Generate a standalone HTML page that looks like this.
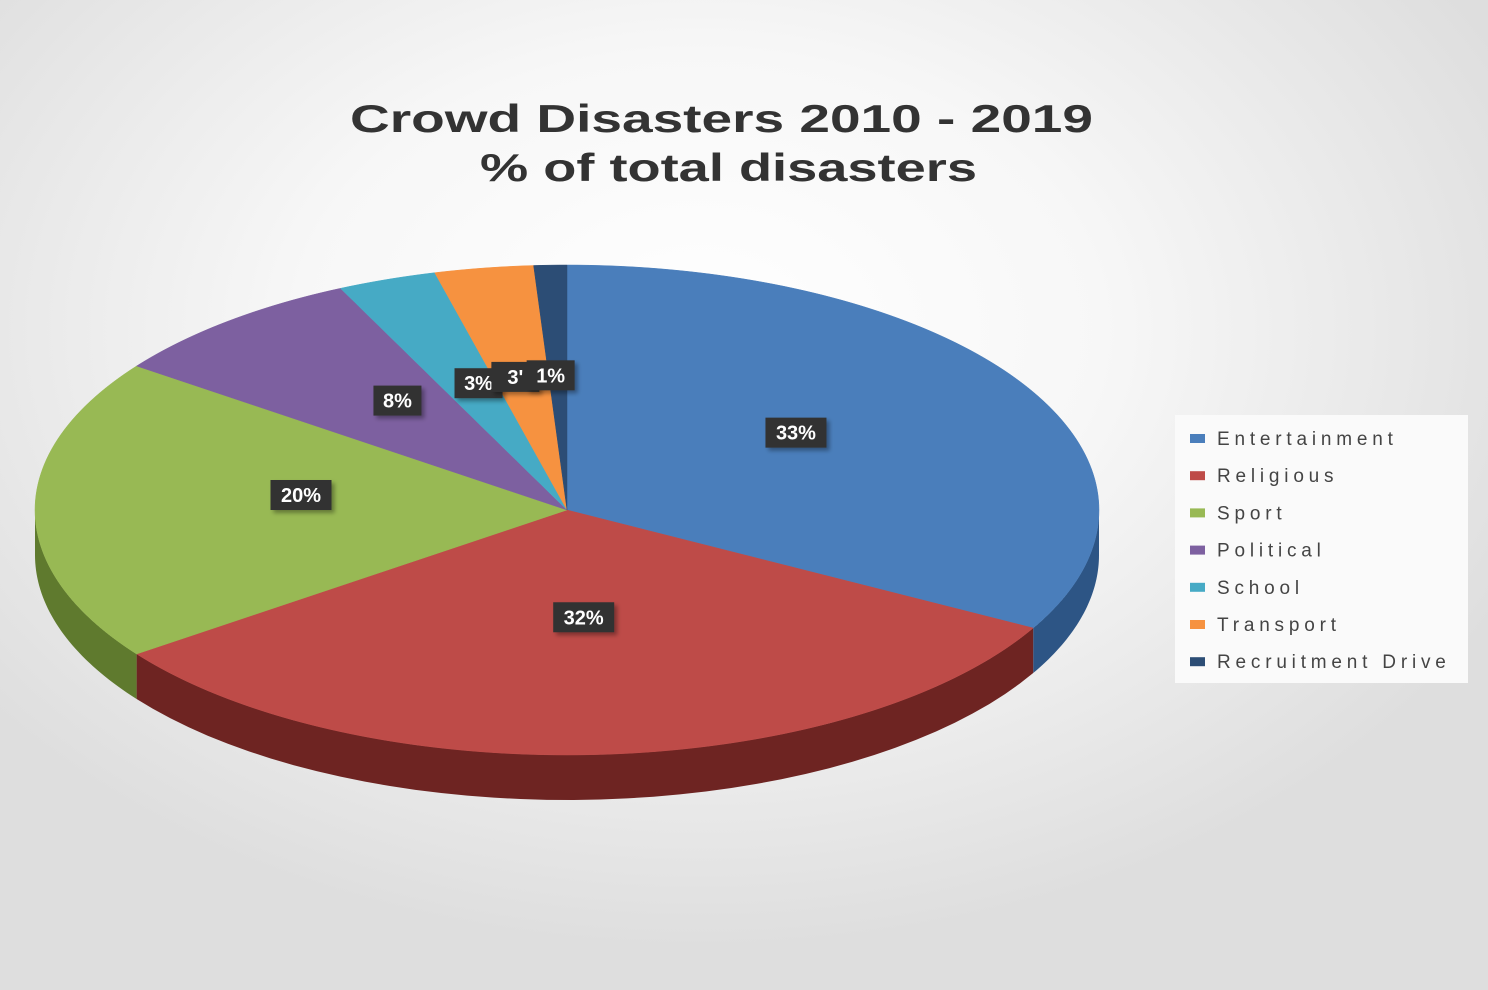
<!DOCTYPE html>
<html><head><meta charset="utf-8">
<style>
body{margin:0;width:1488px;height:990px;overflow:hidden;font-family:"Liberation Sans",sans-serif;}
#bg{position:absolute;left:0;top:0;width:1488px;height:990px;background:radial-gradient(ellipse 900px 620px at 700px 330px,#ffffff 0%,#f7f7f7 45%,#dedede 100%);}
</style></head>
<body>
<div id="bg"></div>
<svg id="chart" width="1488" height="990" style="position:absolute;left:0;top:0">
<defs><filter id="sh" x="-20%" y="-20%" width="150%" height="160%"><feDropShadow dx="3" dy="3" stdDeviation="2" flood-color="#000" flood-opacity="0.35"/></filter></defs>
<text x="350" y="132" textLength="743" lengthAdjust="spacingAndGlyphs" font-size="39" font-weight="bold" fill="#333">Crowd Disasters 2010 - 2019</text>
<text x="480" y="181" textLength="497" lengthAdjust="spacingAndGlyphs" font-size="39" font-weight="bold" fill="#333">% of total disasters</text>
<rect x="1175" y="415" width="293" height="268" fill="#fafafa"/>
<g id="sides"></g><g id="tops"></g><g id="labels"></g><g id="legend"></g>
</svg>
<script>
const categories=["Entertainment","Religious","Sport","Political","School","Transport","Recruitment Drive"];
const values=[33,32,20,8,3,3,1];
const labelText=["33%","32%","20%","8%","3%","3'","1%"];
const colors=["#4a7ebb","#be4b48","#98b954","#7d60a0","#46aac5","#f69240","#2c4d75"];
const sideColors=["#2d5585","#6e2422","#5f7a2e","#4c3a66","#2a6f82","#a55a1c","#172a42"];
const cx=567,cy=510,rx=532,ry=245,depth=45;
const NS="http://www.w3.org/2000/svg";
const total=values.reduce((a,b)=>a+b,0);
function pt(a,dy){return [cx+rx*Math.sin(a),cy-ry*Math.cos(a)+(dy||0)];}
function arc(a1,a2,dy,steps){let s=[];for(let i=0;i<=steps;i++){const a=a1+(a2-a1)*i/steps;s.push(pt(a,dy));}return s;}
const sides=document.getElementById('sides'),tops=document.getElementById('tops'),labels=document.getElementById('labels'),legend=document.getElementById('legend');
let cum=0;
values.forEach((v,i)=>{
  const a1=cum/total*2*Math.PI,a2=(cum+v)/total*2*Math.PI;cum+=v;
  const s1=Math.max(a1,Math.PI/2),s2=Math.min(a2,Math.PI*1.5);
  if(s2>s1){
    const top=arc(s1,s2,0,40),bot=arc(s2,s1,depth,40);
    const p=document.createElementNS(NS,'path');
    p.setAttribute('d','M'+top.concat(bot).map(q=>q.join(',')).join('L')+'Z');
    p.setAttribute('fill',sideColors[i]);
    
    
    sides.appendChild(p);
  }
  const pts=arc(a1,a2,0,Math.max(4,Math.ceil(v*3)));
  const t=document.createElementNS(NS,'path');
  t.setAttribute('d','M'+cx+','+cy+'L'+pts.map(q=>q.join(',')).join('L')+'Z');
  t.setAttribute('fill',colors[i]);
  t.setAttribute('stroke',colors[i]);t.setAttribute('stroke-width','0.5');
  
  
  tops.appendChild(t);
  const mid=(a1+a2)/2;
  let lx=cx+rx*0.5*Math.sin(mid),ly=cy-ry*0.5*Math.cos(mid)-15;
  if(v<5){lx=cx+rx*0.38*Math.sin(mid)+(i===4?-20:i===5?-20:-10);ly=cy-ry*0.55*Math.cos(mid);}
  const g=document.createElementNS(NS,'g');
  
  
  const w=labelText[i].length*13+22;
  const r=document.createElementNS(NS,'rect');
  r.setAttribute('x',lx-w/2);r.setAttribute('y',ly-15);r.setAttribute('width',w);r.setAttribute('height',30);
  r.setAttribute('fill','#333');r.setAttribute('filter','url(#sh)');
  const tx=document.createElementNS(NS,'text');
  tx.setAttribute('x',lx);tx.setAttribute('y',ly+7);tx.setAttribute('text-anchor','middle');
  tx.setAttribute('font-size','20');tx.setAttribute('font-weight','bold');tx.setAttribute('fill','#fff');
  tx.textContent=labelText[i];
  g.appendChild(r);g.appendChild(tx);labels.appendChild(g);
  const ly2=438+i*37.2;
  const lg=document.createElementNS(NS,'g');
  
  
  const sq=document.createElementNS(NS,'rect');
  sq.setAttribute('x',1190);sq.setAttribute('y',ly2-4);sq.setAttribute('width',15);sq.setAttribute('height',9);sq.setAttribute('fill',colors[i]);
  const lt=document.createElementNS(NS,'text');
  lt.setAttribute('x',1217);lt.setAttribute('y',ly2+7);lt.setAttribute('font-size','19');lt.setAttribute('fill','#444');lt.setAttribute('letter-spacing','4.8');
  lt.textContent=categories[i];
  lg.appendChild(sq);lg.appendChild(lt);legend.appendChild(lg);
});
</script>
</body></html>
